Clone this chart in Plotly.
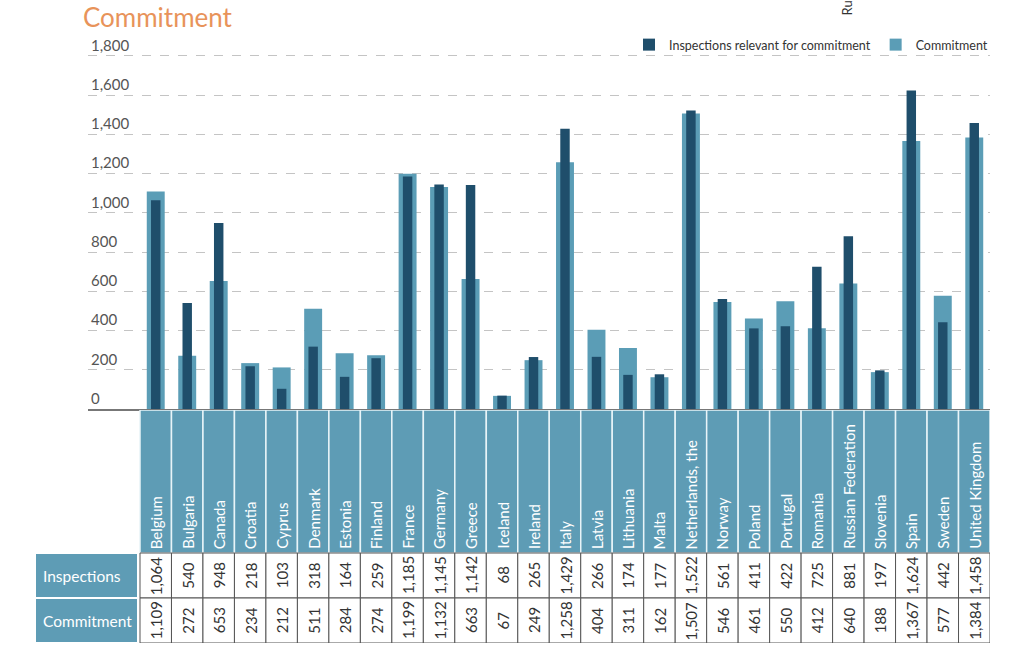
import plotly.graph_objects as go

countries = ["Belgium", "Bulgaria", "Canada", "Croatia", "Cyprus", "Denmark", "Estonia",
             "Finland", "France", "Germany", "Greece", "Iceland", "Ireland", "Italy", "Latvia",
             "Lithuania", "Malta", "Netherlands, the", "Norway", "Poland", "Portugal", "Romania",
             "Russian Federation", "Slovenia", "Spain", "Sweden", "United Kingdom"]
inspections = [1064, 540, 948, 218, 103, 318, 164, 259, 1185, 1145, 1142, 68, 265, 1429, 266,
               174, 177, 1522, 561, 411, 422, 725, 881, 197, 1624, 442, 1458]
commitment = [1109, 272, 653, 234, 212, 511, 284, 274, 1199, 1132, 663, 67, 249, 1258, 404,
              311, 162, 1507, 546, 461, 550, 412, 640, 188, 1367, 577, 1384]
y_ticks = list(range(0, 1801, 200))
row_labels = ["Inspections", "Commitment"]

W, H = 1024, 656
def px_x(p): return p / W
def px_y(p): return 1 - p / H

n = len(countries)
cell_left, table_right = 140, 990
unit = (table_right - cell_left) / n
plot_left, label_left = 88, 35
row_h = 45.0
table_top, table_bottom = 410, 643
y2_top = (table_bottom - table_top) / row_h

# y scale: 0 at px 409, 1800 at px 56; extend range upward so top tick label shows
y0_px, y1800_px = 409, 56
y_max = 2000
y_top_px = y0_px - (y0_px - y1800_px) * y_max / 1800

LIGHT = "#5b9db6"
DARK = "#1f4e6b"
HEAD = "#5e9cb5"
FONT = "Lato"

fig = go.Figure()
fig.add_bar(x=countries, y=commitment, name="Commitment", marker_color=LIGHT,
            marker_line_width=0, width=0.57)
fig.add_bar(x=countries, y=inspections, name="Inspections relevant for commitment",
            marker_color=DARK, marker_line_width=0, width=0.3)
fig.add_scatter(x=[], y=[], xaxis="x2", yaxis="y2", showlegend=False, hoverinfo="skip")

shapes = []
annotations = []
x2_left = -0.5 - (cell_left - label_left) / unit

# header cells (country names)
for i, c in enumerate(countries):
    shapes.append(dict(type="rect", xref="x2", yref="y2", x0=i - 0.5, x1=i + 0.5,
                       y0=2, y1=y2_top, fillcolor=HEAD, line=dict(color="#e8f4f8", width=1.5),
                       layer="above"))
    annotations.append(dict(xref="x2", yref="y2", x=i, y=2 + 2 / row_h, text=c,
                            textangle=-90, xanchor="center", yanchor="bottom", showarrow=False,
                            font=dict(family=FONT, size=15, color="white")))

# number cells
rows_vals = [inspections, commitment]
for r, vals in enumerate(rows_vals):
    y0 = 1 - r
    for i, v in enumerate(vals):
        shapes.append(dict(type="rect", xref="x2", yref="y2", x0=i - 0.5, x1=i + 0.5,
                           y0=y0, y1=y0 + 1, fillcolor="white",
                           line=dict(color="#555555", width=1), layer="above"))
        annotations.append(dict(xref="x2", yref="y2", x=i, y=y0 + 0.5, text=f"{v:,}",
                                textangle=-90, xanchor="center", yanchor="middle",
                                showarrow=False,
                                font=dict(family=FONT, size=15, color="#333333")))
    # row label cell
    shapes.append(dict(type="rect", xref="x2", yref="y2", x0=x2_left, x1=-0.5 - 2 / unit,
                       y0=y0, y1=y0 + 1, fillcolor=HEAD, line=dict(color="white", width=2),
                       layer="above"))
    annotations.append(dict(xref="x2", yref="y2", x=x2_left + 6 / unit, y=y0 + 0.5,
                            text=row_labels[r], xanchor="left", yanchor="middle",
                            showarrow=False,
                            font=dict(family=FONT, size=15.5, color="white")))

# title
annotations.append(dict(xref="paper", yref="paper", x=px_x(82), y=px_y(0), text="Commitment",
                        xanchor="left", yanchor="top", showarrow=False, borderpad=0,
                        font=dict(family=FONT, size=26, color="#e8935a")))
# cropped label fragment at top
annotations.append(dict(xref="paper", yref="paper", x=px_x(846), y=px_y(18), text="Ru",
                        textangle=-90, xanchor="center", yanchor="bottom", showarrow=False,
                        font=dict(family=FONT, size=13, color="#333333")))

fig.update_layout(
    width=W, height=H,
    margin=dict(l=0, r=0, t=0, b=0),
    paper_bgcolor="white", plot_bgcolor="white",
    font=dict(family=FONT, color="#444444"),
    barmode="overlay",
    showlegend=True,
    legend=dict(orientation="h", x=px_x(993), xanchor="right", y=px_y(45), yanchor="middle",
                traceorder="reversed", font=dict(family=FONT, size=12.5, color="#333333"),
                bgcolor="rgba(0,0,0,0)", itemwidth=30),
    xaxis=dict(domain=[px_x(plot_left), px_x(table_right)],
               range=[-0.5 - (cell_left - plot_left) / unit, n - 0.5],
               type="category", showticklabels=False, showgrid=False, ticks="",
               showline=True, linecolor="#777777", linewidth=1.5, anchor="y", fixedrange=True),
    yaxis=dict(domain=[px_y(y0_px), px_y(y_top_px)], range=[0, y_max], tickvals=y_ticks,
               tickformat=",", ticklabelposition="inside top", ticks="",
               showgrid=True, gridcolor="#c4c4c4", griddash="dash", gridwidth=1,
               zeroline=False, showline=False, anchor="x",
               tickfont=dict(family=FONT, size=15, color="#555555")),
    xaxis2=dict(domain=[px_x(label_left), px_x(table_right)],
                range=[x2_left, n - 0.5], visible=False, anchor="y2"),
    yaxis2=dict(domain=[px_y(table_bottom), px_y(table_top)], range=[0, y2_top],
                visible=False, anchor="x2"),
    shapes=shapes,
    annotations=annotations,
)

fig.write_html("out.html", config={"displayModeBar": False},
               post_script="document.body.style.margin='0';")
